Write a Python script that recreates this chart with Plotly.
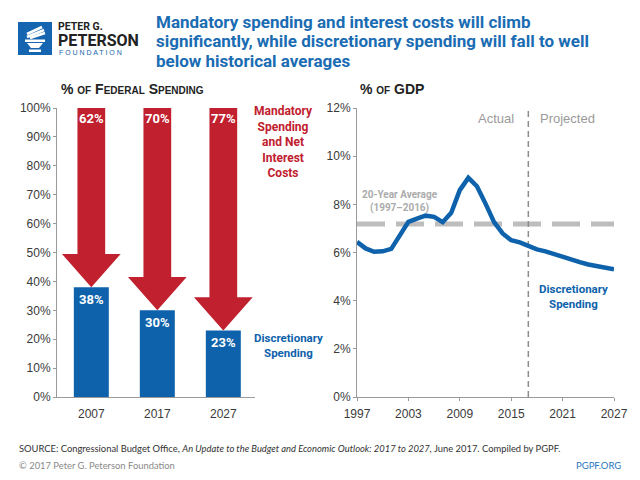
import plotly.graph_objects as go

# ---------------- data ----------------
bar_years = ["2007", "2017", "2027"]
discretionary_share = [38, 30, 23]
mandatory_share = [62, 70, 77]
share_ticks = [0, 10, 20, 30, 40, 50, 60, 70, 80, 90, 100]
share_ticktext = ["0%", "10%", "20%", "30%", "40%", "50%", "60%", "70%", "80%", "90%", "100%"]

gdp_years = list(range(1997, 2028))
discretionary_gdp = [6.44, 6.17, 6.03, 6.05, 6.15, 6.70, 7.27, 7.41, 7.53, 7.48,
                     7.26, 7.65, 8.59, 9.10, 8.75, 8.03, 7.26, 6.79, 6.51, 6.42,
                     6.28, 6.13, 6.05, 5.93, 5.82, 5.72, 5.60, 5.50, 5.43, 5.35, 5.30]
avg_20yr = 7.18
projection_start = 2017
gdp_ticks = [1997, 2003, 2009, 2015, 2021, 2027]
gdp_pct_ticks = [0, 2, 4, 6, 8, 10, 12]
gdp_pct_ticktext = ["0%", "2%", "4%", "6%", "8%", "10%", "12%"]

title_lines = ["Mandatory spending and interest costs will climb",
               "significantly, while discretionary spending will fall to well",
               "below historical averages"]

# ---------------- style ----------------
# the page body has an 8px margin, so the figure is sized to the visible area
OFF = 8
W, H = 640 - OFF, 480 - OFF
RED = "#c1202e"
BLUE = "#0e62ab"
TITLE_BLUE = "#1a6cb3"
GRAY_TXT = "#9a9a9a"
AX = "#9a9a9a"
COND = "Roboto, Liberation Sans, Arial, sans-serif"
SANS = "Liberation Sans, Arial, sans-serif"
FOOT = "Lato, Liberation Sans, Arial, sans-serif"

def px(x):
    return (x - OFF) / W

def py(y):
    return 1 - (y - OFF) / H

fig = go.Figure()

xpos = list(range(len(bar_years)))
bar_w = 0.53
shaft_w = 0.42
head_w = 0.89
head_h = 11.5

# blue discretionary bars
fig.add_trace(go.Bar(x=xpos, y=discretionary_share, width=bar_w,
                     marker=dict(color=BLUE, line=dict(width=0)),
                     xaxis="x", yaxis="y", hoverinfo="skip", showlegend=False))

# red arrows (mandatory share from the top down to the discretionary level)
for i, (d, m) in enumerate(zip(discretionary_share, mandatory_share)):
    top = d + m
    hb = d + head_h
    xs = [i - shaft_w / 2, i + shaft_w / 2, i + shaft_w / 2, i + head_w / 2, i,
          i - head_w / 2, i - shaft_w / 2, i - shaft_w / 2]
    ys = [top, top, hb, hb, d, hb, hb, top]
    fig.add_trace(go.Scatter(x=xs, y=ys, fill="toself", fillcolor=RED, mode="lines",
                             line=dict(width=0, color=RED), xaxis="x", yaxis="y",
                             hoverinfo="skip", showlegend=False))

# value labels
for i, (d, m) in enumerate(zip(discretionary_share, mandatory_share)):
    fig.add_annotation(x=i, y=d + m, xref="x", yref="y", text=f"<b>{m}%</b>",
                       showarrow=False, yanchor="middle", yshift=-10,
                       font=dict(family=COND, size=13, color="white"))
    fig.add_annotation(x=i, y=d, xref="x", yref="y", text=f"<b>{d}%</b>",
                       showarrow=False, yanchor="middle", yshift=-12,
                       font=dict(family=COND, size=13, color="white"))

# right chart
fig.add_trace(go.Scatter(x=[gdp_years[0], gdp_years[-1]], y=[avg_20yr, avg_20yr],
                         mode="lines", line=dict(color="#bdbdbd", width=5, dash="28px,11px"),
                         xaxis="x2", yaxis="y2", hoverinfo="skip", showlegend=False))
fig.add_trace(go.Scatter(x=[projection_start, projection_start], y=[0, 12],
                         mode="lines", line=dict(color="#8c8c8c", width=1.5, dash="6px,4px"),
                         xaxis="x2", yaxis="y2", hoverinfo="skip", showlegend=False))
fig.add_trace(go.Scatter(x=gdp_years, y=discretionary_gdp, mode="lines",
                         line=dict(color=BLUE, width=4.5),
                         xaxis="x2", yaxis="y2", hoverinfo="skip", showlegend=False))

ydom = [py(397), py(108)]
tickfont = dict(family=SANS, size=12, color="#3a3a3a")
common = dict(showgrid=False, zeroline=False, showline=True, linecolor=AX, linewidth=1,
              tickfont=tickfont, fixedrange=True, automargin=False, tickmode="array")
fig.update_layout(
    width=W, height=H, margin=dict(l=0, r=0, t=0, b=0, autoexpand=False),
    paper_bgcolor="white", plot_bgcolor="white", showlegend=False,
    xaxis=dict(domain=[px(57), px(255)], range=[-0.52, 2.48], tickvals=xpos,
               ticktext=bar_years, ticks="", ticklabelstandoff=6, **common),
    yaxis=dict(domain=ydom, range=[0, 100], tickvals=share_ticks, ticktext=share_ticktext,
               ticks="outside", ticklen=3, tickcolor=AX, **common),
    xaxis2=dict(domain=[px(357), px(614)], range=[1997, 2027], tickvals=gdp_ticks,
                ticktext=[str(t) for t in gdp_ticks], anchor="y2", ticklabelstandoff=3,
                ticks="outside", ticklen=3, tickcolor=AX, **common),
    yaxis2=dict(domain=ydom, range=[0, 12], tickvals=gdp_pct_ticks,
                ticktext=gdp_pct_ticktext, anchor="x2",
                ticks="outside", ticklen=3, tickcolor=AX, **common),
)

def ann(x, y, text, size, color, family=COND, xanchor="left", yanchor="middle",
        align="left", **kw):
    fig.add_annotation(x=px(x), y=py(y), xref="paper", yref="paper", text=text,
                       showarrow=False, xanchor=xanchor, yanchor=yanchor, align=align,
                       font=dict(family=family, size=size, color=color, **kw))

# title (one annotation per line for tight leading)
for k, line in enumerate(title_lines):
    ann(154, 22 + 19.5 * k, f"<b>{line}</b>", 17, TITLE_BLUE)

# logo
fig.add_shape(type="rect", xref="paper", yref="paper", x0=px(18), x1=px(52),
              y0=py(55), y1=py(22), fillcolor="#1565b0", line=dict(width=0))
for (x0, y0, x1, y1) in [(27, 34, 42, 27), (27, 37, 44, 30), (30, 38, 45, 33)]:
    fig.add_shape(type="line", xref="paper", yref="paper", x0=px(x0), y0=py(y0),
                  x1=px(x1), y1=py(y1), line=dict(color="white", width=2.5))
fig.add_shape(type="rect", xref="paper", yref="paper", x0=px(25), x1=px(45),
              y0=py(42), y1=py(39.5), fillcolor="white", line=dict(width=0))
fig.add_shape(type="path", xref="paper", yref="paper",
              path=f"M {px(27)} {py(43)} L {px(43)} {py(43)} L {px(39)} {py(48)} "
                   f"L {px(31)} {py(48)} Z", fillcolor="white", line=dict(width=0))
fig.add_shape(type="rect", xref="paper", yref="paper", x0=px(29), x1=px(41),
              y0=py(52), y1=py(49.5), fillcolor="white", line=dict(width=0))
ann(56, 26.5, "<b>PETER G.</b>", 10.5, "#222222")
ann(56, 40, "<b>PETERSON</b>", 16, "#222222")
ann(57, 52.5, "F O U N D A T I O N", 7, "#1565b0", family=SANS)

# panel subtitles
ann(59, 89, "<b>% of Federal Spending</b>", 14, "#222222", family=SANS, variant="small-caps")
ann(358, 89, "<b>% of GDP</b>", 14, "#222222", family=SANS, variant="small-caps")

# left legend texts
ann(283, 102, "<b>Mandatory<br>Spending<br>and Net<br>Interest<br>Costs</b>", 12, RED,
    xanchor="center", yanchor="top", align="center")
ann(288, 345, "<b>Discretionary<br>Spending</b>", 11.5, BLUE,
    xanchor="center", align="center")

# right texts
ann(516, 118, "Actual", 13, GRAY_TXT, family=SANS, xanchor="right")
ann(538, 118, "Projected", 13, GRAY_TXT, family=SANS)
ann(400, 201, "<b>20-Year Average<br>(1997–2016)</b>", 10, "#ababab",
    xanchor="center", align="center")
ann(573, 296, "<b>Discretionary<br>Spending</b>", 11.5, BLUE,
    xanchor="center", align="center")

# footer
ann(17, 448, "SOURCE: Congressional Budget Office, <i>An Update to the Budget and Economic "
             "Outlook: 2017 to 2027,</i> June 2017. Compiled by PGPF.", 9.4, "#333333",
    family=FOOT)
ann(17, 465, "© 2017 Peter G. Peterson Foundation", 9.4, "#8a8a8a", family=FOOT)
ann(623, 465, "PGPF.ORG", 9.5, "#2a78bf", family=FOOT, xanchor="right")

fig.write_html("out.html")
